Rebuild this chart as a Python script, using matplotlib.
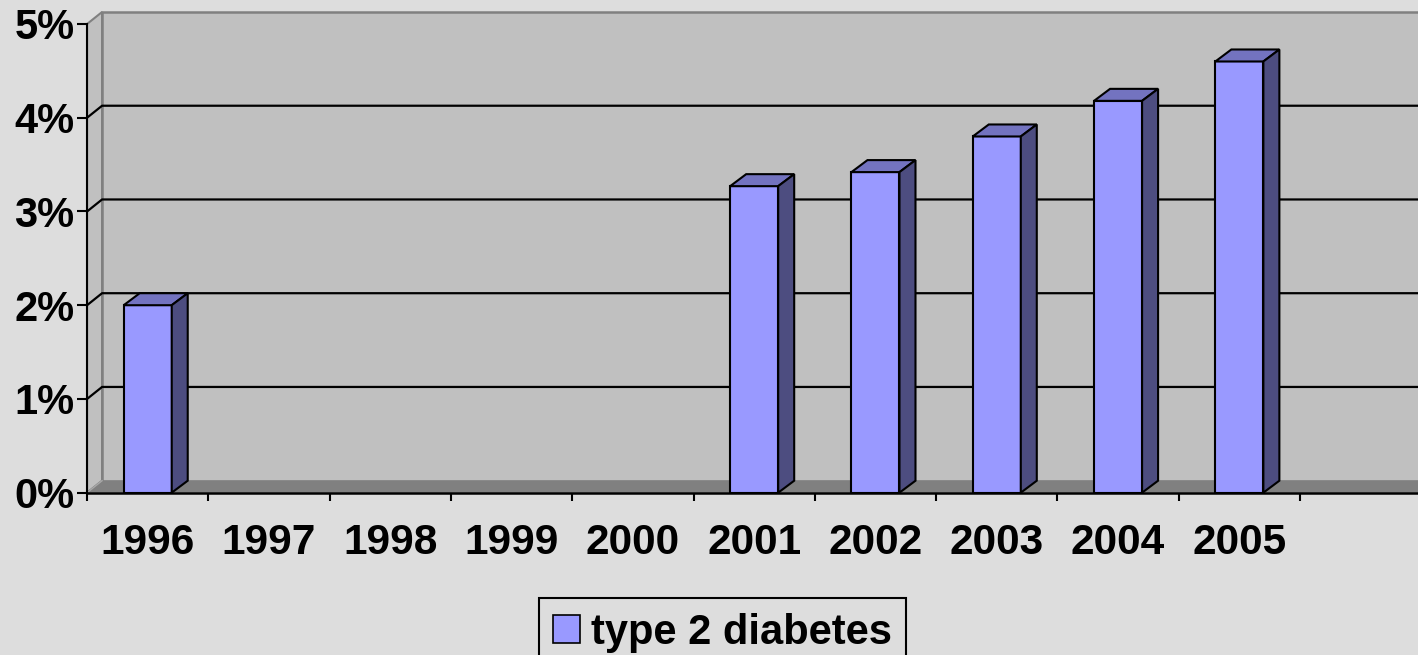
import numpy as np
import matplotlib.pyplot as plt
from matplotlib.patches import Polygon, Patch

# data
years = ['1996', '1997', '1998', '1999', '2000', '2001', '2002', '2003', '2004', '2005']
rates = [2.0, np.nan, np.nan, np.nan, np.nan, 3.27, 3.42, 3.80, 4.18, 4.60]
series_name = 'type 2 diabetes'
yticks = [0, 1, 2, 3, 4, 5]

# colours (Excel 97 look)
bg = '#DDDDDD'
wall = '#C0C0C0'
floor = '#808080'
bar_front = '#9999FF'
bar_top = '#7373C0'
bar_side = '#4D4D80'

plt.rcParams['font.family'] = ['Liberation Sans', 'DejaVu Sans']

fig = plt.figure(figsize=(14.18, 6.55), dpi=100, facecolor=bg)
ax = fig.add_axes([0.0614, 0.2478, 0.9386, 0.7442])
ax.set_facecolor('none')

x0 = -0.5
xr = -0.5 + 1331 / 121.3
ax.set_xlim(x0, xr)
ax.set_ylim(0, 5.2)

# depth of the 3d box in data units
wdx, wdy = 15 / 121.3, 12 / 93.74
bdx, bdy = 16 / 121.3, 12 / 93.74
hw = 0.198

# walls and floor
ax.add_patch(Polygon([(x0, 0), (x0 + wdx, wdy), (x0 + wdx, 5 + wdy), (x0, 5)],
                     closed=True, facecolor=wall, edgecolor=floor, lw=1.5, zorder=1))
ax.add_patch(Polygon([(x0 + wdx, wdy), (xr + 1, wdy), (xr + 1, 5 + wdy), (x0 + wdx, 5 + wdy)],
                     closed=True, facecolor=wall, edgecolor=floor, lw=1.8, zorder=1))
ax.add_patch(Polygon([(x0, 0), (x0 + wdx, wdy), (xr + 1, wdy), (xr + 1, 0)],
                     closed=True, facecolor=floor, edgecolor='none', zorder=1.5))
ax.plot([x0, x0 + wdx], [0, wdy], color='#A8A8A8', lw=1, zorder=1.6)

# gridlines on side and back wall
for v in yticks[1:-1]:
    ax.plot([x0, x0 + wdx, xr + 1], [v, v + wdy, v + wdy], color='black', lw=1.6, zorder=2)

# 3d bars
for i, v in enumerate(rates):
    if np.isnan(v):
        continue
    l, r = i - hw, i + hw
    ax.add_patch(Polygon([(l, 0), (r, 0), (r, v), (l, v)], closed=True,
                         facecolor=bar_front, edgecolor='black', lw=1.5, zorder=5))
    ax.add_patch(Polygon([(l, v), (r, v), (r + bdx, v + bdy), (l + bdx, v + bdy)], closed=True,
                         facecolor=bar_top, edgecolor='black', lw=1.5, zorder=5))
    ax.add_patch(Polygon([(r, 0), (r + bdx, bdy), (r + bdx, v + bdy), (r, v)], closed=True,
                         facecolor=bar_side, edgecolor='black', lw=1.5, zorder=5))

# axes
for s in ['top', 'right']:
    ax.spines[s].set_visible(False)
ax.spines['left'].set_bounds(0, 5)
ax.spines['left'].set_linewidth(1.5)
ax.spines['bottom'].set_linewidth(1.8)
ax.spines['left'].set_zorder(6)
ax.spines['bottom'].set_zorder(6)

ax.set_yticks(yticks)
ax.set_yticklabels([f'{t}%' for t in yticks], fontsize=30, fontweight='bold')
ax.tick_params(axis='y', length=7, width=1.5, pad=2)

ax.set_xticks(np.arange(-0.5, len(years), 1))
ax.set_xticklabels([])
ax.set_xticks(np.arange(len(years)), minor=True)
ax.set_xticklabels(years, minor=True, fontsize=30.5, fontweight='bold')
ax.tick_params(axis='x', which='major', length=6, width=1.5)
ax.tick_params(axis='x', which='minor', length=0, pad=22)

leg = fig.legend(handles=[Patch(facecolor=bar_front, edgecolor='black', lw=1.2)],
                 labels=[series_name], loc='upper center', bbox_to_anchor=(0.5095, 0.087),
                 borderaxespad=0, fancybox=False, edgecolor='black', facecolor=bg, framealpha=1,
                 handlelength=0.64, handleheight=0.64, handletextpad=0.26, borderpad=0.35,
                 prop=dict(weight='bold', size=30))
leg.get_frame().set_linewidth(1.5)

fig.savefig('out.png', dpi=100, facecolor=bg)
